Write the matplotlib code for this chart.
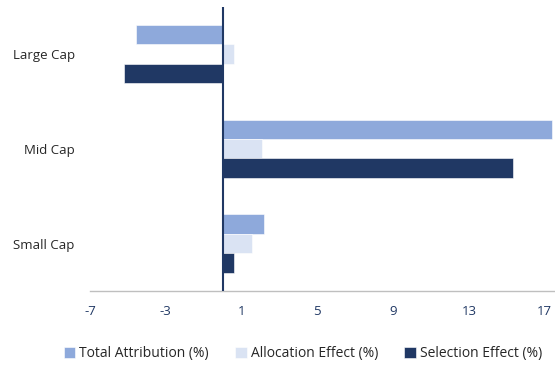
import matplotlib
matplotlib.use("Agg")
import matplotlib.pyplot as plt
import numpy as np

categories = ["Large Cap", "Mid Cap", "Small Cap"]
total_attribution = [-4.56, 17.41, 2.20]
allocation_effect = [0.62, 2.08, 1.57]
selection_effect = [-5.18, 15.31, 0.62]
x_ticks = [-7, -3, 1, 5, 9, 13, 17]

series = [
    ("Total Attribution (%)", total_attribution, "#8EA9DB"),
    ("Allocation Effect (%)", allocation_effect, "#DAE3F3"),
    ("Selection Effect (%)", selection_effect, "#203864"),
]

plt.rcParams["font.family"] = ["Open Sans", "DejaVu Sans"]

fig = plt.figure(figsize=(5.55, 3.65), dpi=100)
ax = fig.add_axes([90 / 555, 1 - 291 / 365, 465 / 555, 284.5 / 365])

y = np.arange(len(categories))
h = 0.205
handles = []
for i, (name, vals, color) in enumerate(series):
    b = ax.barh(y + (i - 1) * h, vals, height=h, color=color,
                edgecolor="white", linewidth=0.4, label=name, zorder=2)
    handles.append(b)

ax.set_ylim(len(categories) - 0.5, -0.5)
ax.set_xlim(-7, 17.55)
ax.set_xticks(x_ticks)
ax.set_xticklabels([str(t) for t in x_ticks], color="#203864", fontsize=9.5)
ax.set_yticks(y)
ax.set_yticklabels(categories, color="#262626", fontsize=9.5)
ax.tick_params(axis="both", length=0)
ax.tick_params(axis="x", pad=10)
ax.tick_params(axis="y", pad=11)

for s in ["top", "right", "left"]:
    ax.spines[s].set_visible(False)
ax.spines["bottom"].set_color("#BFBFBF")
ax.spines["bottom"].set_linewidth(1.0)

ax.axvline(0, color="#203864", linewidth=1.5, zorder=3)

fig.legend(handles=handles, loc="center", bbox_to_anchor=(0.546, 1 - 354 / 365),
           ncol=3, frameon=False, fontsize=10, handlelength=0.8,
           handleheight=0.8, handletextpad=0.3, columnspacing=1.9,
           labelcolor="#262626")

fig.savefig("out.png", dpi=100)
